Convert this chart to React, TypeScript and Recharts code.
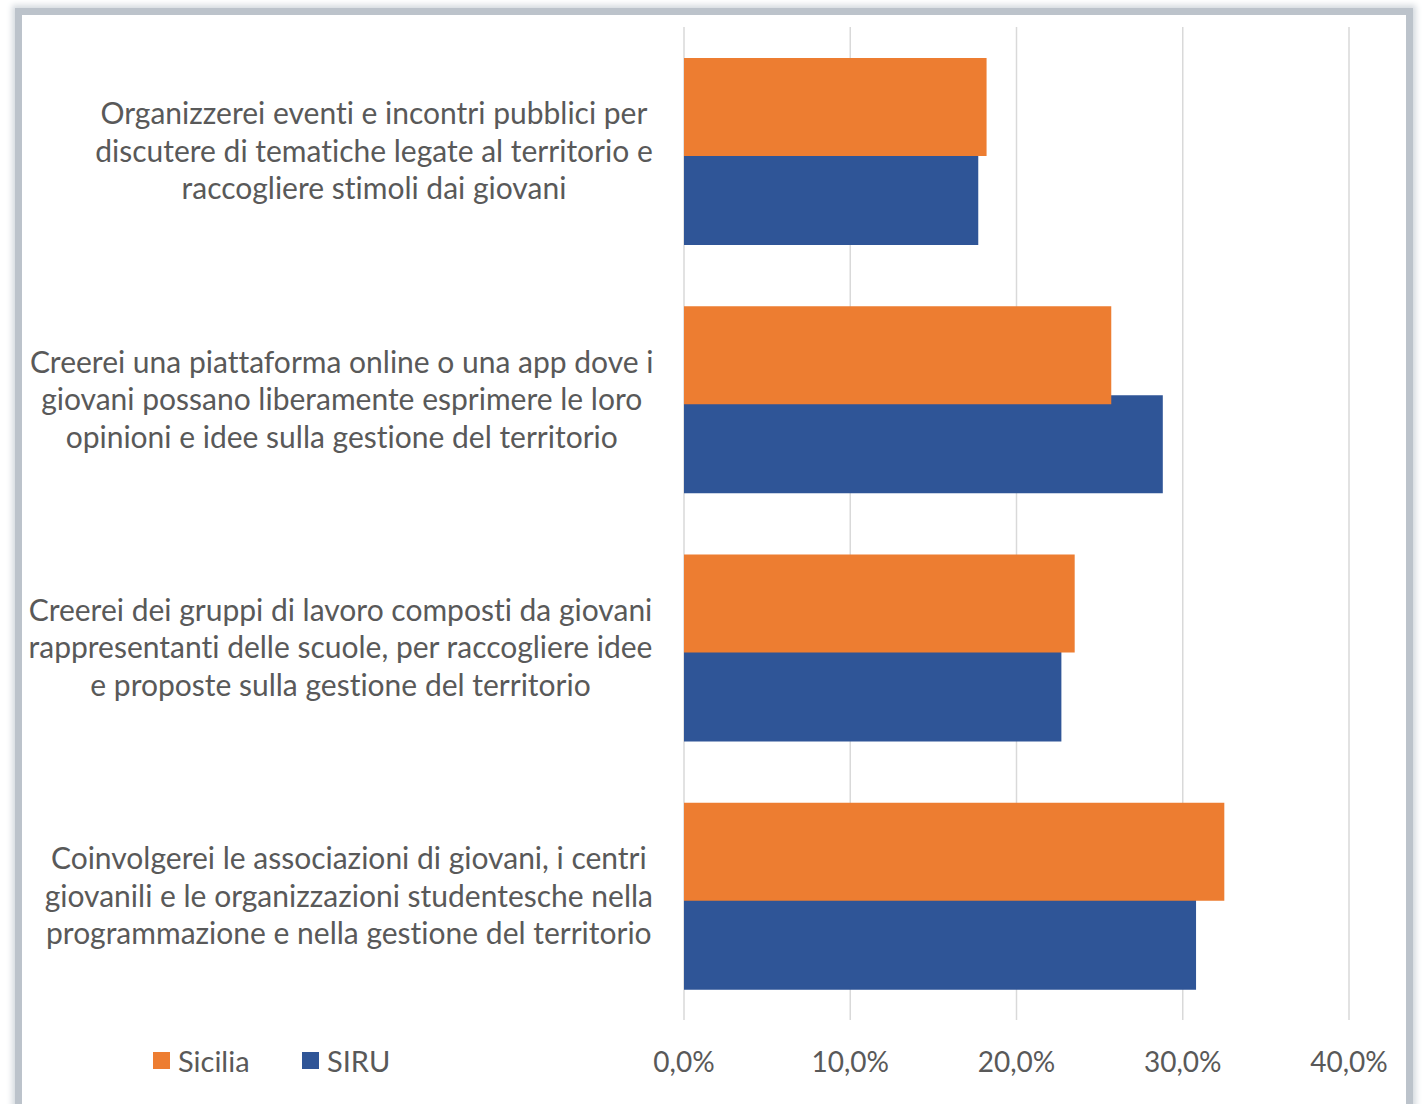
import React from "react";
import { BarChart, Bar, XAxis, YAxis, CartesianGrid } from "recharts";

const categories = [
  "Organizzerei eventi e incontri pubblici per|discutere di tematiche legate al territorio e|raccogliere stimoli dai giovani",
  "Creerei una piattaforma online o una app dove i|giovani possano liberamente esprimere le loro|opinioni e idee sulla gestione del territorio",
  "Creerei dei gruppi di lavoro composti da giovani|rappresentanti delle scuole, per raccogliere idee|e proposte sulla gestione del territorio",
  "Coinvolgerei le associazioni di giovani, i centri|giovanili e le organizzazioni studentesche nella|programmazione e nella gestione del territorio",
];
const sicilia = [0.182, 0.257, 0.235, 0.325];
const siru = [0.177, 0.288, 0.227, 0.308];
const ticks = [0, 0.1, 0.2, 0.3, 0.4];

const data = categories.map((c, i) => ({ name: c, Sicilia: sicilia[i], SIRU: siru[i] }));

const FONT = "Lato, 'Open Sans', sans-serif";
const TEXT = "#595959";
const ORANGE = "#ED7D31";
const BLUE = "#2F5597";
const noLig: React.CSSProperties = { fontVariantLigatures: "none", fontFeatureSettings: '"liga" 0' };

let ctx: CanvasRenderingContext2D | null = null;
function measure(s: string, size: number) {
  if (!ctx) ctx = document.createElement("canvas").getContext("2d");
  if (!ctx) return s.length * size * 0.5;
  ctx.font = `${size}px Lato`;
  return ctx.measureText(s).width;
}

const CatTick = (props: any) => {
  const { y, payload } = props;
  const lines: string[] = String(payload.value).split("|");
  const size = 30;
  const right = 653;
  const w = Math.max(...lines.map((l) => measure(l, size)));
  const cx = right - w / 2;
  const lh = 37.5;
  return (
    <text x={cx} y={y} textAnchor="middle" fill={TEXT} fontSize={size} fontFamily={FONT} style={noLig}>
      {lines.map((l, i) => (
        <tspan key={i} x={cx} y={y + (i - (lines.length - 1) / 2) * lh} dy="0.36em">
          {l}
        </tspan>
      ))}
    </text>
  );
};

const ValTick = (props: any) => {
  const { x, y, payload } = props;
  const label = (payload.value * 100).toFixed(1).replace(".", ",") + "%";
  return (
    <text x={x} y={y} dy={52} textAnchor="middle" fill={TEXT} fontSize={28} fontFamily={FONT}>
      {label}
    </text>
  );
};

const legendItems = [
  { name: "Sicilia", color: ORANGE, x: 153 },
  { name: "SIRU", color: BLUE, x: 302 },
];

export default function App() {
  return (
    <div style={{ position: "absolute", left: 0, top: 0, width: 1422, height: 1104, background: "#fff", overflow: "hidden" }}>
      <div
        style={{
          position: "absolute",
          left: 15,
          top: 8,
          width: 1384,
          height: 1120,
          border: "7px solid #BCC3CB",
          boxShadow: "0 0 6px 3px #D5DADF",
          background: "#fff",
        }}
      />
      <div style={{ position: "absolute", left: 0, top: 0 }}>
        <BarChart
          width={1422}
          height={1104}
          data={data}
          layout="vertical"
          margin={{ top: 27, right: 73, bottom: 24, left: 0 }}
          barSize={98}
          barGap={-9}
        >
          <CartesianGrid horizontal={false} stroke="#D9D9D9" strokeWidth={1.5} />
          <XAxis
            type="number"
            domain={[0, 0.4]}
            ticks={ticks}
            height={60}
            axisLine={false}
            tickLine={false}
            tickSize={0}
            tickMargin={0}
            tick={<ValTick />}
            interval={0}
          />
          <YAxis
            type="category"
            dataKey="name"
            width={684}
            axisLine={false}
            tickLine={false}
            tick={<CatTick />}
            interval={0}
          />
          <Bar dataKey="Sicilia" fill={ORANGE} isAnimationActive={false} zIndex={400} />
          <Bar dataKey="SIRU" fill={BLUE} isAnimationActive={false} />
        </BarChart>
      </div>
      {legendItems.map((it) => (
        <div key={it.name} style={{ position: "absolute", left: it.x, top: 1042, height: 36, display: "flex", alignItems: "center", fontFamily: FONT, fontSize: 29, color: TEXT }}>
          <span style={{ display: "inline-block", width: 17, height: 17, background: it.color, marginRight: 8 }} />
          {it.name}
        </div>
      ))}
    </div>
  );
}
